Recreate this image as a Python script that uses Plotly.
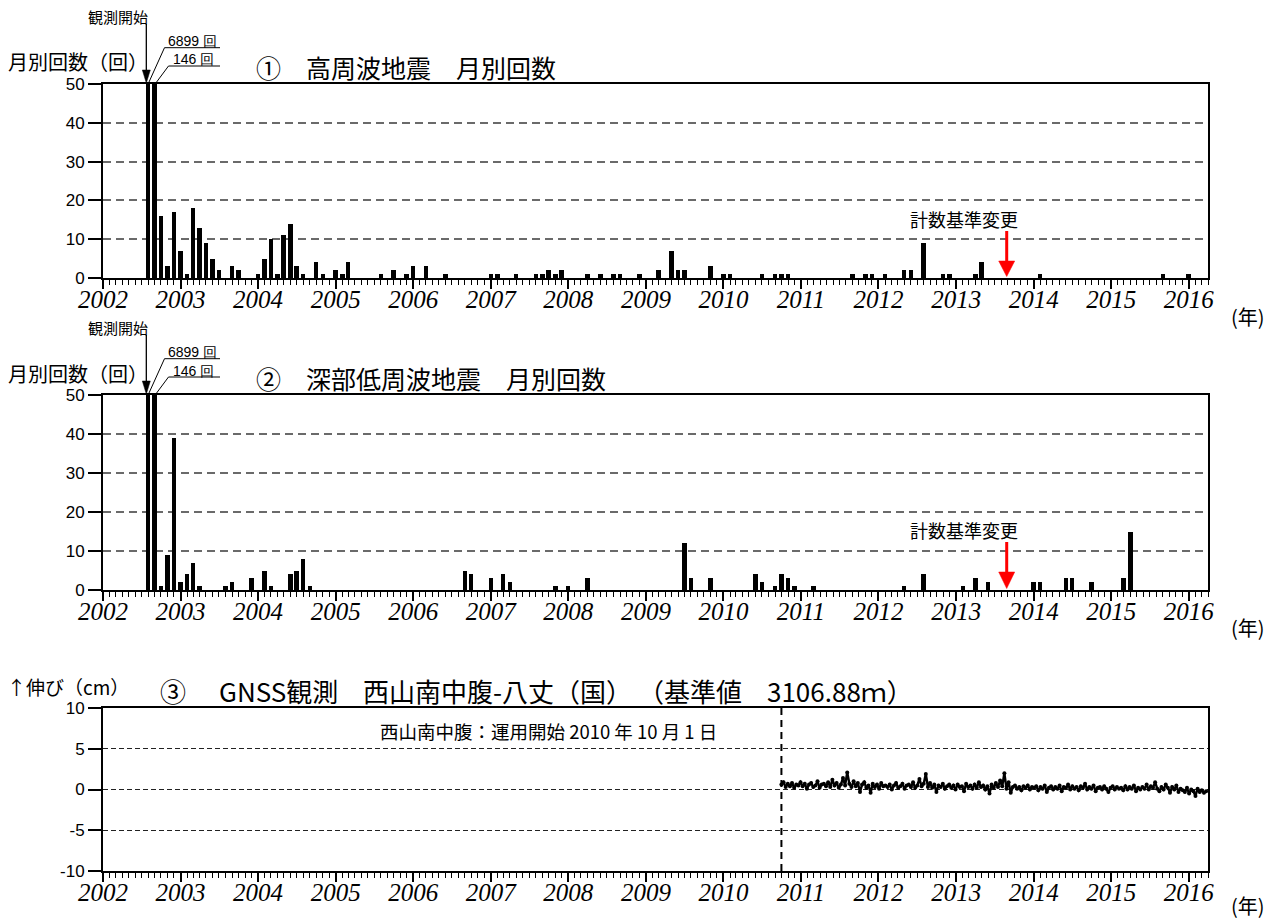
import pandas as pd
import plotly.graph_objects as go

# ---------------- data ----------------
hf_months = ["2002-08", "2002-09", "2002-10", "2002-11", "2002-12", "2003-01", "2003-02", "2003-03",
             "2003-04", "2003-05", "2003-06", "2003-07", "2003-09", "2003-10", "2004-01", "2004-02",
             "2004-03", "2004-04", "2004-05", "2004-06", "2004-07", "2004-08", "2004-10", "2004-11",
             "2005-01", "2005-02", "2005-03", "2005-08", "2005-10", "2005-12", "2006-01", "2006-03",
             "2006-06", "2007-01", "2007-02", "2007-05", "2007-08", "2007-09", "2007-10", "2007-11",
             "2007-12", "2008-04", "2008-06", "2008-08", "2008-09", "2008-12", "2009-03", "2009-05",
             "2009-06", "2009-07", "2009-11", "2010-01", "2010-02", "2010-07", "2010-09", "2010-10",
             "2010-11", "2011-09", "2011-11", "2011-12", "2012-02", "2012-05", "2012-06", "2012-08",
             "2012-11", "2012-12", "2013-04", "2013-05", "2014-02", "2015-09", "2016-01"]
hf_counts = [6899, 146, 16, 3, 17, 7, 1, 18,
             13, 9, 5, 2, 3, 2, 1, 5,
             10, 1, 11, 14, 3, 1, 4, 1,
             2, 1, 4, 1, 2, 1, 3, 3,
             1, 1, 1, 1, 1, 1, 2, 1,
             2, 1, 1, 1, 1, 1, 2, 7,
             2, 2, 3, 1, 1, 1, 1, 1,
             1, 1, 1, 1, 1, 2, 2, 9,
             1, 1, 1, 4, 1, 1, 1]

lf_months = ["2002-08", "2002-09", "2002-10", "2002-11", "2002-12", "2003-01", "2003-02", "2003-03",
             "2003-04", "2003-08", "2003-09", "2003-12", "2004-02", "2004-03", "2004-06", "2004-07",
             "2004-08", "2004-09", "2006-09", "2006-10", "2007-01", "2007-03", "2007-04", "2007-11",
             "2008-01", "2008-04", "2009-07", "2009-08", "2009-11", "2010-06", "2010-07", "2010-09",
             "2010-10", "2010-11", "2010-12", "2011-03", "2012-05", "2012-08", "2013-02", "2013-04",
             "2013-06", "2014-01", "2014-02", "2014-06", "2014-07", "2014-10", "2015-03", "2015-04"]
lf_counts = [6899, 146, 1, 9, 39, 2, 4, 7,
             1, 1, 2, 3, 5, 1, 4, 5,
             8, 1, 5, 4, 3, 4, 2, 1,
             1, 3, 12, 3, 3, 4, 2, 1,
             4, 3, 1, 1, 1, 4, 1, 3,
             2, 2, 2, 3, 3, 2, 3, 15]

# GNSS baseline change (cm), one reading every 10 days from 2010-10-01
gnss_start = "2010-10-01"
gnss_values = [
    0.6, 0.9, 0.3, 0.7, 0.4, 0.8, 0.2, 0.6, 0.5, 0.9,
    0.4, 0.7, 0.1, 0.6, 0.8, 0.3, 0.5, 1.0, 0.2, 0.6,
    0.7, 0.4, 0.9, 0.3, 1.2, 0.5, 0.8, 0.2, 0.6, 1.4,
    0.5, 2.1, 0.7, 0.3, 1.0, 0.4, 0.8, -0.3, 0.6, 0.9,
    0.2, 0.5, -0.4, 0.7, 0.3, 0.6, 0.1, 0.8, 0.4, 0.5,
    0.3, 0.6, 0.0, 0.5, 0.8, 0.2, 0.4, 0.7, 0.1, 0.5,
    0.6, 0.3, 0.9, 0.2, 0.5, 1.3, 0.4, 0.7, 1.9, 0.3,
    0.8, 0.2, 0.6, -0.3, 0.5, 0.3, 0.7, 0.1, 0.4, 0.6,
    0.2, 0.5, 0.0, 0.6, 0.3, 0.4, -0.2, 0.7, 0.3, 0.5,
    0.1, 0.6, 0.2, 0.9, 0.3, 0.5, 0.0, 0.4, -0.5, 0.6,
    0.2, 0.8, 0.3, 1.1, 0.4, 2.0, 0.1, 0.9, -0.4, 0.3,
    0.5, 0.1, 0.3, -0.1, 0.4, 0.2, 0.5, 0.0, 0.3, 0.2,
    0.4, -0.1, 0.3, 0.1, 0.5, -0.3, 0.2, 0.4, 0.0, 0.3,
    0.1, 0.5, -0.2, 0.3, 0.2, 0.6, 0.0, 0.4, 0.1, 0.3,
    -0.1, 0.4, 0.2, 0.7, 0.0, 0.3, 0.1, 0.5, -0.2, 0.2,
    0.3, 0.0, 0.4, 0.1, -0.3, 0.2, 0.4, 0.0, 0.3, 0.1,
    0.2, -0.1, 0.4, 0.0, 0.3, 0.1, 0.5, -0.2, 0.2, 0.0,
    0.3, 0.1, 0.6, 0.0, 0.4, 0.2, 0.9, 0.1, -0.2, 0.3,
    0.0, 0.6, 0.2, -0.4, 0.3, 0.0, 0.5, -0.3, 0.1, -0.1,
    -0.3, 0.2, -0.5, 0.0, -0.2, -0.8, 0.1, -0.3, -0.1, -0.4,
    -0.2,
]

year_ticks = [str(y) for y in range(2002, 2017)]
count_ticks = [0, 10, 20, 30, 40, 50]
gnss_ticks = [-10, -5, 0, 5, 10]

obs_start_date = "2002-07-24"
count_change_date = "2013-08-27"
station_start_date = "2010-10-01"

# ---------------- geometry ----------------
W, H = 1276, 920
X_START, X_END = "2002-01-01", "2016-04-01"
PL, PR = 103, 1208
PANELS = [(84, 278), (395, 590), (708, 871)]
OFF2 = PANELS[1][0] - PANELS[0][0]

def X(px):
    return px / W

def Y(py):
    return 1 - py / H

def date_px(d):
    t0, t1 = pd.Timestamp(X_START), pd.Timestamp(X_END)
    return PL + (pd.Timestamp(d) - t0) / (t1 - t0) * (PR - PL)

CJK = "Noto Sans CJK JP"
BAR_W = 21 * 86400000

fig = go.Figure()
fig.add_trace(go.Bar(x=hf_months, y=hf_counts, width=BAR_W, marker=dict(color="black", line_width=0),
                     xaxis="x", yaxis="y", showlegend=False))
fig.add_trace(go.Bar(x=lf_months, y=lf_counts, width=BAR_W, marker=dict(color="black", line_width=0),
                     xaxis="x2", yaxis="y2", showlegend=False))
gnss_dates = pd.date_range(gnss_start, periods=len(gnss_values), freq="10D")
fig.add_trace(go.Scatter(x=gnss_dates, y=gnss_values, mode="lines+markers",
                         line=dict(color="black", width=2.4), marker=dict(color="black", size=4),
                         xaxis="x3", yaxis="y3", showlegend=False))

def xaxis(anchor):
    return dict(type="date", range=[X_START, X_END], domain=[X(PL), X(PR)], anchor=anchor,
                automargin=False,
                showline=True, linewidth=2, linecolor="black", mirror=True,
                ticks="outside", ticklen=9, tickwidth=1.5, tickcolor="black",
                tickmode="array", tickvals=[f"{y}-01-01" for y in year_ticks], ticktext=year_ticks,
                tickfont=dict(family="Liberation Serif", size=25, color="black", style="italic"),
                ticklabelstandoff=-11,
                showgrid=False, zeroline=False,
                minor=dict(dtick="M1", tick0="2002-01-01", ticks="outside", ticklen=5, tickwidth=1,
                           tickcolor="black", showgrid=False))

def yaxis(anchor, top, bottom, rng, vals, gridcolor, griddash, gridwidth):
    return dict(range=rng, domain=[Y(bottom), Y(top)], anchor=anchor, automargin=False,
                showline=True, linewidth=2, linecolor="black", mirror=True,
                ticks="outside", ticklen=13, tickwidth=1.5, tickcolor="black",
                tickmode="array", tickvals=vals, ticktext=[str(v) for v in vals],
                tickfont=dict(family="Liberation Sans", size=17, color="black"),
                showgrid=True, gridcolor=gridcolor, griddash=griddash, gridwidth=gridwidth,
                zeroline=False)

fig.update_layout(
    width=W, height=H, margin=dict(l=0, r=0, t=0, b=0, autoexpand=False),
    paper_bgcolor="white", plot_bgcolor="white", bargap=0,
    xaxis=xaxis("y"), xaxis2=xaxis("y2"), xaxis3=xaxis("y3"),
    yaxis=yaxis("x", *PANELS[0], [0, 50], count_ticks, "#6a6a6a", "8px,5px", 1.5),
    yaxis2=yaxis("x2", *PANELS[1], [0, 50], count_ticks, "#6a6a6a", "8px,5px", 1.5),
    yaxis3=yaxis("x3", *PANELS[2], [-10, 10], gnss_ticks, "#222222", "5px,3px", 1),
)

ann = []
shapes = []

def text(t, x, y, size, xanchor="left", family=CJK, color="black"):
    ann.append(dict(text=t, x=X(x), y=Y(y), xref="paper", yref="paper", showarrow=False,
                    xanchor=xanchor, yanchor="middle", font=dict(family=family, size=size, color=color)))

def line(x0, y0, x1, y1, width=1, color="black", dash=None):
    shapes.append(dict(type="line", xref="paper", yref="paper", x0=X(x0), y0=Y(y0), x1=X(x1), y1=Y(y1),
                       line=dict(color=color, width=width, dash=dash)))

def tri(cx, ybase, ytip, half, color):
    path = f"M{X(cx - half)},{Y(ybase)} L{X(cx + half)},{Y(ybase)} L{X(cx)},{Y(ytip)} Z"
    shapes.append(dict(type="path", xref="paper", yref="paper", path=path,
                       fillcolor=color, line=dict(color=color, width=0.5)))

# panels 1 and 2 decorations
titles = ["①　高周波地震　月別回数", "②　深部低周波地震　月別回数"]
for i, ttl in enumerate(titles):
    o = OFF2 * i
    top, bottom = PANELS[i]
    text("月別回数（回）", 6, 62 + o, 20)
    text(ttl, 254, 67 + o, 25)
    text("(年)", 1248, 316 + o, 20, xanchor="center")
    # observation start arrow
    ax = date_px(obs_start_date)
    text("観測開始", ax - 28, 16 + o, 15, xanchor="center")
    line(ax, 24 + o, ax, 72 + o, width=1.3)
    tri(ax, 70 + o, top - 1, 4, "black")
    # clipped bar labels
    b1 = date_px(hf_months[0])
    b2 = date_px(hf_months[1])
    text(f"{hf_counts[0]} 回", 166, 41 + o, 14, family="Liberation Sans")
    line(b1 + 1, top - 2, 164.5, 47.7 + o, width=1)
    line(164.5, 47.7 + o, 220, 47.7 + o, width=1)
    text(f"{hf_counts[1]} 回", 171, 59.5 + o, 14, family="Liberation Sans")
    line(b2 + 2, top - 2, 168.5, 66 + o, width=1)
    line(168.5, 66 + o, 220, 66 + o, width=1)
    # counting criteria change
    cx = date_px(count_change_date)
    text("計数基準変更", cx - 43, 219 + o, 18, xanchor="center")
    line(cx, 231 + o, cx, 263 + o, width=3, color="#ff0000")
    tri(cx, 261 + o, bottom - 1.5, 8, "#ff0000")

# panel 3 decorations
text("↑伸び（cm）", 5, 686, 19)
title3 = [("③", 158), ("GNSS観測", 217), ("西山南中腹-八丈（国）", 361),
          ("（基準値", 636), ("3106.88ｍ）", 765)]
for t, xp in title3:
    text(t, xp, 690, 26)
text("西山南中腹：運用開始 2010 年 10 月 1 日", 548, 731, 18.5, xanchor="center")
text("(年)", 1248, 905, 20, xanchor="center")
shapes.append(dict(type="line", xref="x3", yref="y3 domain", x0=station_start_date, x1=station_start_date,
                   y0=0, y1=1, line=dict(color="black", width=2, dash="7px,5px")))

fig.update_layout(annotations=ann, shapes=shapes)
fig.write_html("out.html", config={"displayModeBar": False},
               post_script="document.body.style.margin='0px';document.body.style.overflow='hidden';")
